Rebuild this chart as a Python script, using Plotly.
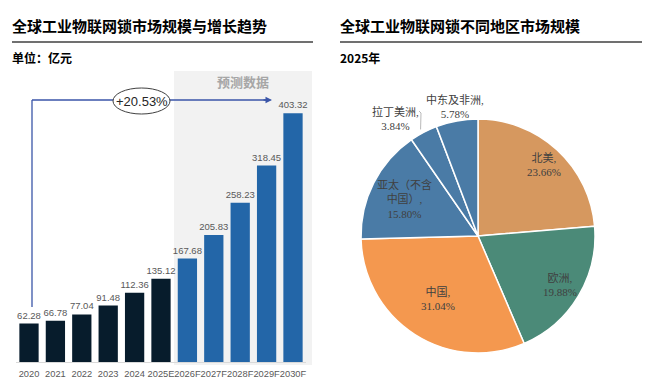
import math
import plotly.graph_objects as go

# ---------------- data ----------------
years = ["2020", "2021", "2022", "2023", "2024", "2025E", "2026F", "2027F", "2028F", "2029F", "2030F"]
market_size = [62.28, 66.78, 77.04, 91.48, 112.36, 135.12, 167.68, 205.83, 258.23, 318.45, 403.32]
cagr_label = "+20.53%"

regions = ["北美", "欧洲", "中国", "亚太（不含<br>中国）", "拉丁美洲", "中东及非洲"]
region_share = [23.66, 19.88, 31.04, 15.80, 3.84, 5.78]

# page has an 8px body margin; work in screen pixels and convert
OFF = 8
W, H = 650 - OFF, 390 - OFF
def px(x):
    return (x - OFF) / W
def py(y):
    return 1 - (y - OFF) / H

DARK = "#071C2C"
BLUE = "#2366A8"
bar_colors = [DARK if not y.endswith("F") else BLUE for y in years]

fig = go.Figure()

fig.add_trace(go.Bar(
    x=years, y=market_size,
    marker=dict(color=bar_colors, line=dict(width=0)),
    text=[f"{v:.2f}" for v in market_size],
    textposition="outside",
    constraintext="none",
    textfont=dict(family="Liberation Sans, Arial", size=9.5, color="#595959"),
    cliponaxis=False,
    xaxis="x", yaxis="y",
    showlegend=False,
    hoverinfo="skip",
))

pie_colors = ["#D6985F", "#4B8A78", "#F4984F", "#4A7BA6", "#4A7BA6", "#4A7BA6"]

cx, cy, R = 478, 236, 117
fig.add_trace(go.Pie(
    labels=regions, values=region_share,
    sort=False, direction="clockwise", rotation=0,
    marker=dict(colors=pie_colors, line=dict(color="white", width=1.5)),
    textinfo="none",
    domain=dict(x=[px(cx - R), px(cx + R)], y=[py(cy + R), py(cy - R)]),
    showlegend=False,
    hoverinfo="skip",
))

shapes = []
annotations = []

def text_at(x, y, text, font, xanchor="center"):
    annotations.append(dict(xref="paper", yref="paper", x=px(x), y=py(y),
                            xanchor=xanchor, yanchor="middle",
                            text=text, showarrow=False, font=font))

# shaded forecast region
shapes.append(dict(type="rect", xref="paper", yref="paper",
                   x0=px(174), x1=px(312), y0=py(365), y1=py(71),
                   fillcolor="#F2F2F2", line=dict(width=0), layer="below"))
text_at(243, 81, "<b>预测数据</b>", dict(family="Noto Sans CJK SC", size=13, color="#A6A6A6"))

# titles and rules
for x0, x1, title, sub in [(12, 313, "全球工业物联网锁市场规模与增长趋势", "单位：亿元"),
                           (340, 642, "全球工业物联网锁不同地区市场规模", "2025年")]:
    text_at(x0 - 2, 25, f"<b>{title}</b>", dict(family="Noto Sans CJK SC", size=15, color="#000000"), "left")
    text_at(x0 - 2, 57, f"<b>{sub}</b>", dict(family="Noto Sans CJK SC", size=12, color="#000000"), "left")
    shapes.append(dict(type="line", xref="paper", yref="paper",
                       x0=px(x0), x1=px(x1), y0=py(42), y1=py(42),
                       line=dict(color="#404040", width=1.5)))

# CAGR arrow
ARROW = "#3A55A8"
shapes.append(dict(type="line", xref="paper", yref="paper",
                   x0=px(32), x1=px(32), y0=py(307), y1=py(100),
                   line=dict(color=ARROW, width=1.3)))
shapes.append(dict(type="line", xref="paper", yref="paper",
                   x0=px(32), x1=px(266), y0=py(100), y1=py(100),
                   line=dict(color=ARROW, width=1.3)))
annotations.append(dict(xref="paper", yref="paper", x=px(272), y=py(100),
                        ax=-10, ay=0, axref="pixel", ayref="pixel",
                        showarrow=True, arrowhead=2, arrowsize=1, arrowwidth=1.3,
                        arrowcolor=ARROW, text=""))
shapes.append(dict(type="circle", xref="paper", yref="paper",
                   x0=px(113), x1=px(170), y0=py(114), y1=py(88),
                   fillcolor="white", line=dict(color="#404040", width=1)))
text_at(141.5, 101, cagr_label, dict(family="Liberation Sans, Arial", size=13, color="#262626"))

# pie data labels, placed from the slice angles ("best fit" style radii)
label_radius = [0.83, 0.82, 0.64, 0.70]
cum = 0
label_font = dict(family="Liberation Serif, Noto Sans CJK SC", size=11, color="#404040")
for i, (lab, v) in enumerate(zip(regions, region_share)):
    mid = (cum + v / 2) / 100 * 2 * math.pi
    cum += v
    txt = f"{lab},<br>{v:.2f}%"
    if i < len(label_radius):
        rr = R * label_radius[i]
        text_at(cx + rr * math.sin(mid), cy - rr * math.cos(mid), txt, label_font)
        continue
    ex, ey = cx + R * math.sin(mid), cy - R * math.cos(mid)
    if lab == "拉丁美洲":
        shapes.append(dict(type="path", xref="paper", yref="paper",
                           path=f"M {px(419)} {py(111)} L {px(421)} {py(113)} L {px(ex - 3)} {py(ey - 3)}",
                           line=dict(color="#A6A6A6", width=0.8)))
        text_at(395, 118, txt, label_font)
    else:
        text_at(ex - 2, 107, txt, label_font)

x_left, x_right = 15.8, 306.2
fig.update_layout(
    width=W, height=H,
    margin=dict(l=0, r=0, t=0, b=0),
    paper_bgcolor="white", plot_bgcolor="rgba(0,0,0,0)",
    bargap=0.27,
    xaxis=dict(domain=[px(x_left), px(x_right)], type="category",
               showgrid=False, zeroline=False, showline=True, linecolor="#D9D9D9", linewidth=1,
               tickfont=dict(family="Liberation Sans, Arial", size=9.3, color="#595959"),
               tickangle=0, ticks="", ticklabelstandoff=3, fixedrange=True),
    yaxis=dict(domain=[py(362), py(84.5)], range=[0, 450], visible=False, fixedrange=True),
    shapes=shapes,
    annotations=annotations,
)

fig.write_html("out.html")
